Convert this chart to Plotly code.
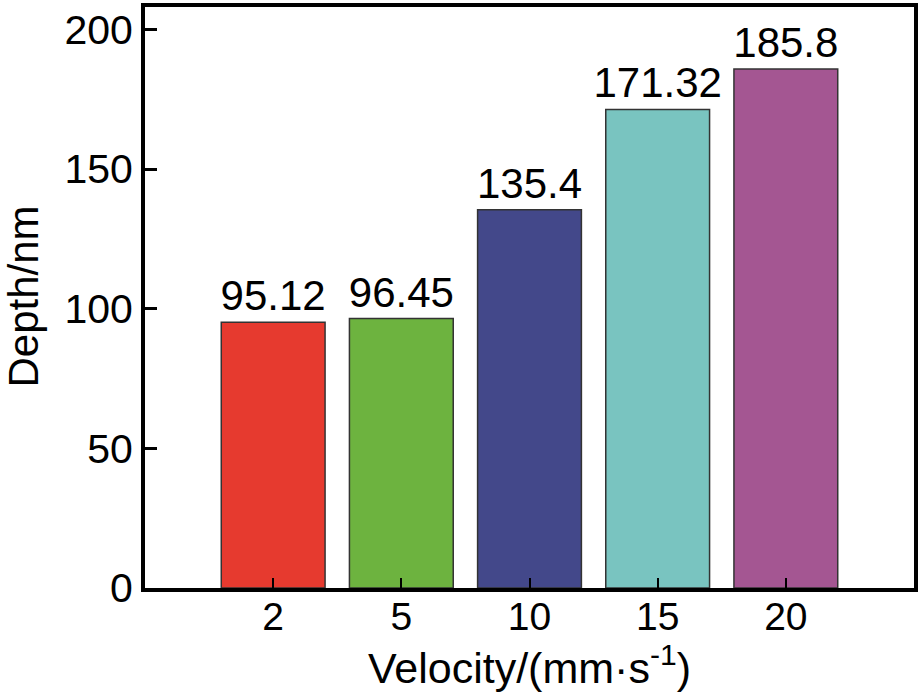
import plotly.graph_objects as go

velocity = ["2", "5", "10", "15", "20"]
depth = [95.12, 96.45, 135.4, 171.32, 185.8]
depth_labels = ["95.12", "96.45", "135.4", "171.32", "185.8"]
bar_colors = ["#E63A2F", "#6DB33F", "#43488A", "#79C4C0", "#A45692"]

font_family = "Liberation Sans, Arial, sans-serif"

fig = go.Figure()
fig.add_trace(go.Bar(
    x=velocity,
    y=depth,
    text=depth_labels,
    textposition="outside",
    constraintext="none",
    textfont=dict(size=42, color="black", family=font_family),
    cliponaxis=False,
    width=0.81,
    marker=dict(color=bar_colors, line=dict(color="#333333", width=1.5)),
))

fig.update_layout(
    width=921,
    height=695,
    margin=dict(l=145, r=3, t=5, b=107),
    plot_bgcolor="white",
    paper_bgcolor="white",
    showlegend=False,
    font=dict(family=font_family, size=41, color="black"),
    annotations=[dict(
        text="Depth/nm", textangle=-90, showarrow=False,
        xref="paper", yref="paper", x=0, y=0.5, xshift=-122, yshift=1,
        xanchor="center", yanchor="middle",
        font=dict(size=42),
    )],
)
fig.update_xaxes(
    type="category",
    range=[-1, 5],
    showline=True, linewidth=4, linecolor="black", mirror=True,
    ticks="inside", ticklen=10, tickwidth=2, tickcolor="black",
    tickfont=dict(size=39), ticklabelstandoff=-9,
    showgrid=False,
    title=dict(text="Velocity/(mm·s<sup>-1</sup>)", standoff=0,
               font=dict(size=43)),
)
fig.update_yaxes(
    range=[0, 208],
    tickvals=[0, 50, 100, 150, 200],
    showline=True, linewidth=4, linecolor="black", mirror=True,
    ticks="inside", ticklen=12, tickwidth=3, tickcolor="black",
    tickfont=dict(size=41),
    showgrid=False, zeroline=False,
)

# page margin off so the figure sits at the window's corner
fig.write_html("out.html", config={"displayModeBar": False},
               post_script="document.body.style.margin='0';")
